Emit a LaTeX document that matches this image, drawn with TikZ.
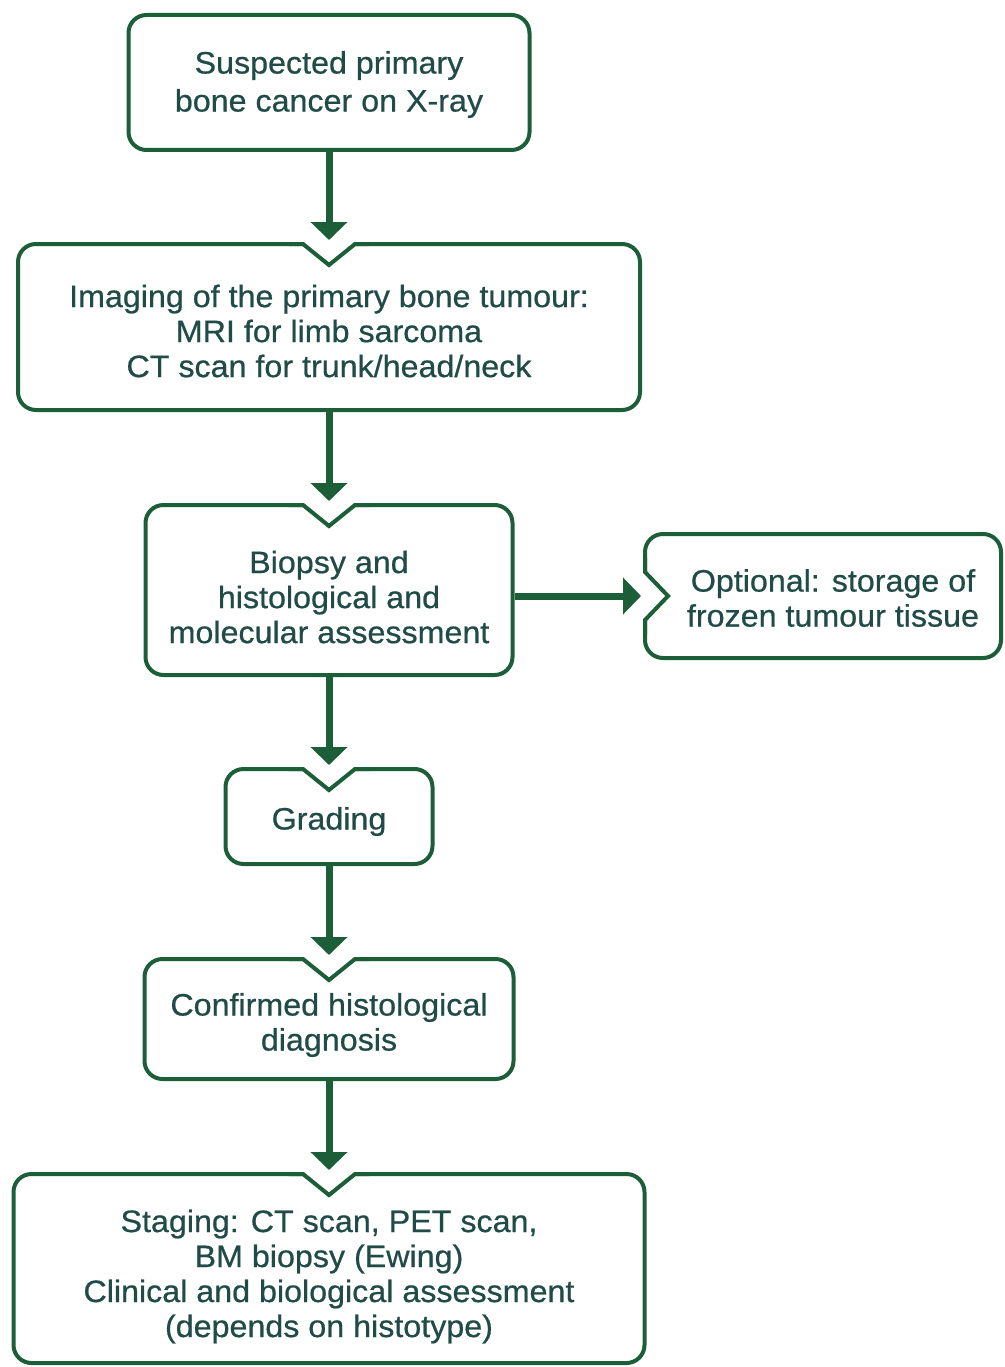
\documentclass[tikz,border=0pt]{standalone}
\usepackage{fontspec}
\setmainfont{Liberation Sans}[FakeStretch=1.04,FakeBold=0.6]
\usetikzlibrary{arrows.meta,calc}
\definecolor{boxgreen}{HTML}{1B5E38}
\definecolor{inktext}{HTML}{204B46}

% V-shaped notch cut into the top edge of a box, below an incoming arrow
\newcommand\topnotch[1]{%
  \fill[white] ($(#1.north)+(-26,-1)$) rectangle ($(#1.north)+(26,5)$);
  \draw[boxline,line join=miter]
    ($(#1.north)+(-40,2)$) -- ($(#1.north)+(-26,2)$) -- ($(#1.north)+(0,23)$)
    -- ($(#1.north)+(26,2)$) -- ($(#1.north)+(40,2)$);}
% the same notch on the left edge of a box
\newcommand\leftnotch[1]{%
  \fill[white] ($(#1.west)+(-1,-24)$) rectangle ($(#1.west)+(5,24)$);
  \draw[boxline,line join=miter]
    ($(#1.west)+(2,-38)$) -- ($(#1.west)+(2,-24)$) -- ($(#1.west)+(25,0)$)
    -- ($(#1.west)+(2,24)$) -- ($(#1.west)+(2,38)$);}

\tikzset{
  boxline/.style={draw=boxgreen,line width=4pt},
  stepbox/.style={boxline,rectangle,rounded corners=18pt,inner sep=0pt,fill=white},
  txt/.style={text=inktext,align=center,inner sep=0pt,
    font=\fontsize{31}{35}\selectfont},
  flow/.style={draw=boxgreen,line width=7pt,
    -{Triangle[width=36pt,length=18pt]},shorten >=2pt},
}

\begin{document}
\begin{tikzpicture}[x=1pt,y=-1pt]
\useasboundingbox (0,0) rectangle (1004,1367);

% boxes
\node[stepbox,minimum width=401pt,minimum height=135pt] (b1) at (329,82.5) {};
\node[stepbox,minimum width=622pt,minimum height=166pt] (b2) at (329,327) {};
\node[stepbox,minimum width=367pt,minimum height=170pt] (b3) at (329,590) {};
\node[stepbox,minimum width=356pt,minimum height=124pt] (b4) at (823,596) {};
\node[stepbox,minimum width=207pt,minimum height=95pt] (b5) at (329,816.5) {};
\node[stepbox,minimum width=369pt,minimum height=120pt] (b6) at (329,1019) {};
\node[stepbox,minimum width=631pt,minimum height=189pt] (b7) at (329,1268.5) {};

\topnotch{b2}
\topnotch{b3}
\topnotch{b5}
\topnotch{b6}
\topnotch{b7}
\leftnotch{b4}

% texts
\node[txt,font=\fontsize{31}{38}\selectfont] (t1) at ($(b1)+(0,2)$)
  {Suspected primary\\bone cancer on X-ray};
\node[txt] (t2) at ($(b2)+(0,4)$)
  {Imaging of the primary bone tumour:\\MRI for limb sarcoma\\CT scan for trunk/head/neck};
\node[txt] (t3) at ($(b3)+(0,7)$)
  {Biopsy and\\histological and\\molecular assessment};
\node[txt] (t4) at ($(b4)+(10,2)$)
  {Optional: storage of\\frozen tumour tissue};
\node[txt] (t5) at ($(b5)+(0,5)$) {Grading};
\node[txt] (t6) at ($(b6)+(0,6)$)
  {Confirmed histological\\diagnosis};
\node[txt] (t7) at ($(b7)+(0,8)$)
  {Staging: CT scan, PET scan,\\BM biopsy (Ewing)\\Clinical and biological assessment\\(depends on histotype)};

% connectors
\draw[flow] (b1.south) -- (b2.north);
\draw[flow] (b2.south) -- (b3.north);
\draw[flow] (b3.south) -- (b5.north);
\draw[flow] (b5.south) -- (b6.north);
\draw[flow] (b6.south) -- (b7.north);
\draw[flow] (b3.east |- b4.west) -- (b4.west);
\end{tikzpicture}
\end{document}
